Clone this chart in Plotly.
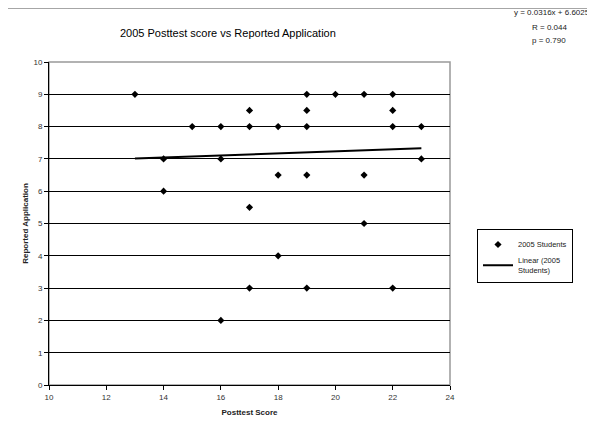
import plotly.graph_objects as go

# Data
posttest = [13, 14, 14, 15, 16, 16, 16, 17, 17, 17, 17, 18, 18, 18,
            19, 19, 19, 19, 19, 20, 21, 21, 21, 22, 22, 22, 22, 23, 23]
applied = [9, 7, 6, 8, 8, 7, 2, 8.5, 8, 5.5, 3, 8, 6.5, 4,
           9, 8.5, 8, 6.5, 3, 9, 9, 6.5, 5, 9, 8.5, 8, 3, 8, 7]
slope = 0.0316
intercept = 6.6025
trend_x = [min(posttest), max(posttest)]
trend_y = [slope * v + intercept for v in trend_x]
x_ticks = [10, 12, 14, 16, 18, 20, 22, 24]
y_ticks = list(range(0, 11))

OFF = 8  # page body margin
W, H = 595 - OFF, 434 - OFF
L, R, T, B = 49 - OFF, 450 - OFF, 62 - OFF, 385 - OFF

def px(xp):
    return (xp - OFF - L) / (R - L)

def py(yp):
    return (B - (yp - OFF)) / (B - T)

font = "Liberation Sans, Arial, sans-serif"

fig = go.Figure()
fig.add_trace(go.Scatter(
    x=posttest, y=applied, mode="markers", name="2005 Students",
    marker=dict(symbol="diamond", size=5.5, color="black")))
fig.add_trace(go.Scatter(
    x=trend_x, y=trend_y, mode="lines", name="Linear (2005<br>Students)",
    line=dict(color="black", width=2)))

fig.update_layout(
    width=W, height=H,
    margin=dict(l=L, r=W - R, t=T, b=H - B, pad=0),
    paper_bgcolor="white", plot_bgcolor="white",
    font=dict(family=font, size=8, color="#222"),
    showlegend=True,
    legend=dict(x=px(477), y=py(229), xanchor="left", yanchor="top",
                bordercolor="black", borderwidth=1, bgcolor="white",
                font=dict(size=7.5, family=font, color="#222"),
                itemwidth=30, tracegroupgap=0),
    xaxis=dict(range=[10, 24], tickvals=x_ticks, showgrid=False,
               showline=True, linecolor="black", linewidth=1,
               ticks="outside", ticklen=4, tickcolor="black",
               zeroline=False, tickfont=dict(size=8, color="#333"),
               title=dict(text="<b>Posttest Score</b>", font=dict(size=8, color="#222"), standoff=8)),
    yaxis=dict(range=[0, 10], tickvals=y_ticks, showgrid=True,
               gridcolor="black", gridwidth=1,
               showline=True, linecolor="black", linewidth=1,
               ticks="outside", ticklen=4, tickcolor="black",
               zeroline=False, tickfont=dict(size=8, color="#333"),
               title=dict(text="<b>Reported Application</b>", font=dict(size=8, color="#222"), standoff=3)),
)

# plot area border (gray top/right)
fig.add_shape(type="rect", xref="paper", yref="paper", x0=0, y0=0, x1=1, y1=1,
              line=dict(color="#999", width=1.5), layer="below")
# outer chart border
fig.add_shape(type="line", xref="paper", yref="paper", x0=px(7), x1=px(7), y0=py(8), y1=py(440),
              line=dict(color="#888", width=1.5))
fig.add_shape(type="line", xref="paper", yref="paper", x0=px(7), x1=px(600), y0=py(8), y1=py(8),
              line=dict(color="#888", width=1.5))

fig.add_annotation(text="2005 Posttest score vs Reported Application", xref="paper", yref="paper",
                   x=px(228), y=py(33), showarrow=False, xanchor="center", yanchor="middle",
                   font=dict(size=11, family=font, color="black"))
fig.add_annotation(text=f"y = {slope}x + {intercept}", xref="paper", yref="paper",
                   x=px(592), y=py(12), showarrow=False, xanchor="right", yanchor="middle",
                   font=dict(size=8, family=font, color="#222"))
fig.add_annotation(text="R = 0.044", xref="paper", yref="paper",
                   x=px(549), y=py(28), showarrow=False, xanchor="center", yanchor="middle",
                   font=dict(size=8, family=font, color="#222"))
fig.add_annotation(text="p = 0.790", xref="paper", yref="paper",
                   x=px(549), y=py(40), showarrow=False, xanchor="center", yanchor="middle",
                   font=dict(size=8, family=font, color="#222"))

fig.write_html("out.html")
